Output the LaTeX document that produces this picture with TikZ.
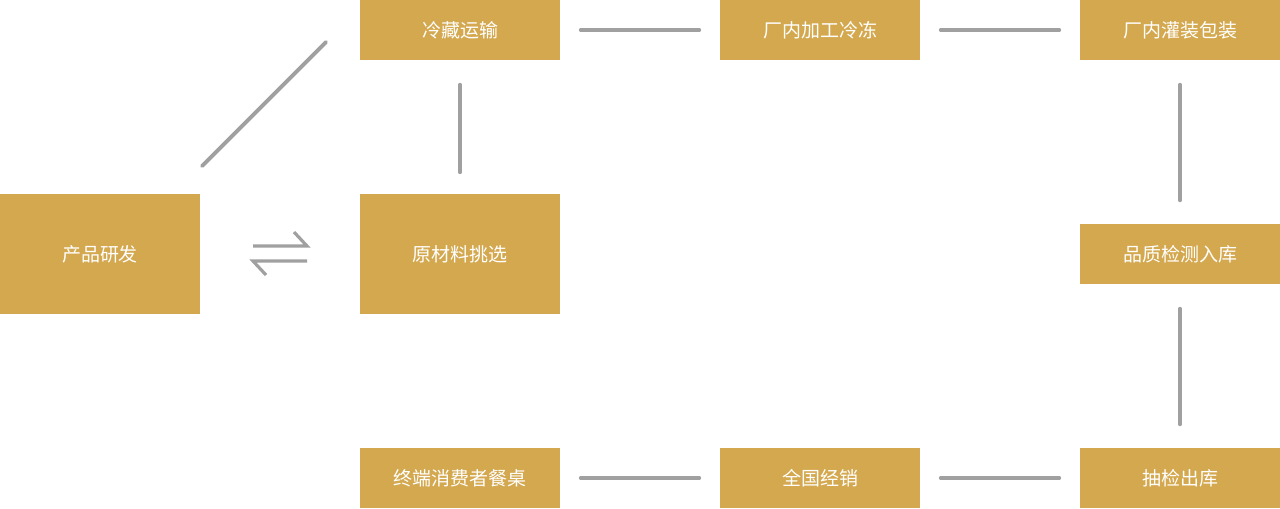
\documentclass[tikz,border=0pt]{standalone}
\usepackage{fontspec}
\setmainfont{Noto Sans CJK SC}
\usetikzlibrary{positioning}
\definecolor{boxgold}{HTML}{D4A84F}
\definecolor{linegray}{HTML}{A0A0A0}

\begin{document}
\begin{tikzpicture}[x=0.01cm, y=-0.01cm,
        stepbox/.style={fill=boxgold, text=white, inner sep=0pt, minimum width=2cm, minimum height=0.6cm, font=\fontsize{5.4}{6}\selectfont},
        link/.style={draw=linegray, line width=1.1pt, line cap=round}]
    \useasboundingbox (0,0) rectangle (1280,508);

    \node[stepbox] (cold) at (460,30) {冷藏运输};
    \node[stepbox] (proc) at (820,30) {厂内加工冷冻};
    \node[stepbox] (pack) at (1180,30) {厂内灌装包装};
    \node[stepbox, minimum height=1.2cm] (rnd) at (100,254) {产品研发};
    \node[stepbox, minimum height=1.2cm] (raw) at (460,254) {原材料挑选};
    \node[stepbox] (qc) at (1180,254) {品质检测入库};
    \node[stepbox] (table) at (460,478) {终端消费者餐桌};
    \node[stepbox] (sale) at (820,478) {全国经销};
    \node[stepbox] (check) at (1180,478) {抽检出库};

    \draw[link, shorten <=0.2cm, shorten >=0.2cm] (cold) -- (proc);
    \draw[link, shorten <=0.2cm, shorten >=0.2cm] (proc) -- (pack);
    \draw[link, shorten <=0.24cm, shorten >=0.21cm] (cold) -- (raw);
    \draw[link, shorten <=0.24cm, shorten >=0.23cm] (pack) -- (qc);
    \draw[link, shorten <=0.24cm, shorten >=0.23cm] (qc) -- (check);
    \draw[link, shorten <=0.2cm, shorten >=0.2cm] (check) -- (sale);
    \draw[link, shorten <=0.2cm, shorten >=0.2cm] (sale) -- (table);

    % diagonal and exchange arrows
    \coordinate (d1) at (202,166);
    \coordinate (d2) at (326,42);
    \draw[link] (d1) -- (d2);
    \draw[link, line width=0.9pt, line cap=butt] (253,246) -- (307,246) -- (294,232);
    \draw[link, line width=0.9pt, line cap=butt] (307,261) -- (253,261) -- (266,275);
\end{tikzpicture}
\end{document}
